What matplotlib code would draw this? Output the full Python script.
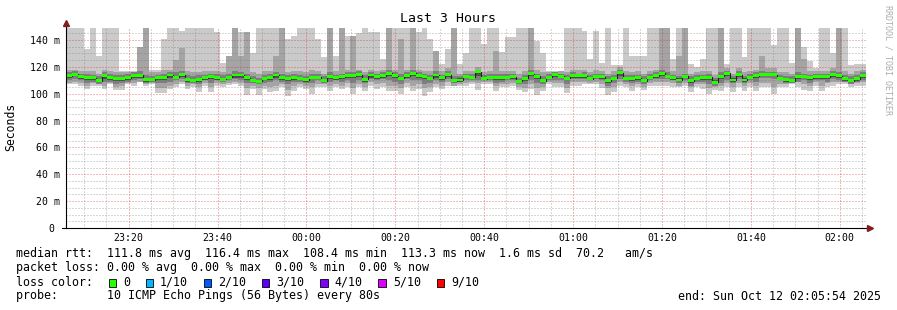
import numpy as np
import matplotlib
matplotlib.use('Agg')
import matplotlib.pyplot as plt
from matplotlib.patches import Rectangle
from matplotlib.transforms import ScaledTranslation

# time window, seconds relative to Sun Oct 12 00:00
t_start = -3246
t_end = 7554
step = 80
y_top = 148.9

xtick_pos = [-2400, -1200, 0, 1200, 2400, 3600, 4800, 6000, 7200]
xtick_labels = ['23:20', '23:40', '00:00', '00:20', '00:40', '01:00', '01:20', '01:40', '02:00']
ytick_pos = [0, 20, 40, 60, 80, 100, 120, 140]
ytick_labels = ['0', '20 m', '40 m', '60 m', '80 m', '100 m', '120 m', '140 m']

# median rtt (ms) per 80s step
med = [113.4, 114.6, 112.7, 111.9, 111.7, 109.7, 113.4, 111.7, 111.5, 111.0,
       111.9, 113.7, 113.7, 110.5, 110.5, 112.4, 112.2, 113.9, 112.4, 114.2,
       110.7, 109.7, 110.7, 111.7, 112.7, 111.7, 110.7, 112.2, 113.9, 113.9,
       111.9, 109.7, 109.2, 111.5, 112.2, 113.9, 112.2, 111.0, 111.7, 111.4,
       110.5, 112.4, 112.4, 109.7, 112.9, 111.7, 112.7, 113.4, 113.4, 114.2,
       110.7, 113.9, 112.7, 113.4, 115.2, 113.4, 111.4, 113.4, 115.2, 113.4,
       112.7, 111.4, 113.9, 111.7, 114.2, 109.7, 110.2, 112.9, 112.2, 116.4,
       111.0, 112.2, 111.7, 112.2, 112.2, 112.7, 109.2, 111.4, 114.7, 112.9,
       109.7, 112.2, 114.2, 112.9, 111.4, 113.2, 113.2, 113.4, 111.0, 112.9,
       112.7, 109.7, 111.4, 115.7, 111.4, 111.0, 111.7, 109.7, 112.4, 113.4,
       115.2, 113.0, 111.7, 110.2, 112.9, 109.7, 111.4, 111.7, 112.2, 108.4,
       112.9, 115.2, 110.2, 114.2, 110.2, 112.2, 113.4, 114.2, 114.2, 114.2,
       111.4, 110.5, 109.7, 112.9, 112.9, 111.7, 112.7, 112.7, 112.7, 114.2,
       113.2, 111.0, 109.7, 111.0, 113.3]

# sorted ping smoke edges (ms): p1 lowest ... p10 highest
p1 = [107.0, 107.0, 106.0, 103.5, 106.0, 106.0, 103.5, 107.0, 102.8, 102.8,
      107.0, 106.0, 108.4, 106.0, 107.0, 100.3, 100.3, 103.5, 104.7, 107.0,
      103.5, 105.2, 101.0, 106.0, 101.0, 106.0, 104.7, 106.7, 107.0, 106.0,
      99.3, 103.5, 99.3, 103.5, 101.0, 102.3, 104.7, 98.5, 102.3, 105.2,
      103.5, 99.8, 104.7, 105.2, 102.3, 105.2, 103.5, 105.2, 99.8, 104.7,
      102.3, 106.0, 103.5, 105.2, 102.3, 102.3, 99.8, 104.7, 102.3, 103.5,
      98.5, 101.0, 104.7, 103.5, 106.0, 106.0, 106.0, 106.0, 107.2, 103.0,
      107.2, 107.2, 102.3, 104.7, 104.7, 106.0, 102.8, 101.0, 103.5, 99.3,
      102.3, 107.2, 104.7, 104.7, 100.3, 106.0, 106.0, 107.2, 107.2, 107.2,
      104.2, 99.0, 101.0, 106.0, 104.7, 102.3, 104.7, 102.8, 106.0, 106.0,
      106.0, 106.0, 105.0, 105.0, 106.0, 101.0, 104.7, 103.5, 99.8, 102.8,
      102.3, 104.7, 101.0, 104.7, 102.3, 105.2, 101.8, 104.7, 104.7, 99.8,
      104.7, 104.7, 107.2, 105.2, 102.8, 102.3, 106.0, 102.3, 104.7, 106.0,
      107.2, 107.2, 104.7, 106.0, 106.0]

p2 = [108, 109, 108, 106, 108, 107, 106, 108, 105, 106,
      108, 108, 109, 107, 108, 104, 104, 106, 107, 109,
      106, 107, 105, 108, 105, 108, 107, 108, 109, 108,
      104, 106, 104, 106, 105, 106, 107, 103, 106, 107,
      106, 105, 107, 107, 106, 107, 106, 108, 104, 107,
      105, 109, 107, 108, 106, 106, 104, 108, 106, 107,
      104, 105, 107, 106, 109, 106, 107, 108, 109, 108,
      109, 109, 106, 107, 107, 108, 105, 104, 107, 104,
      105, 109, 108, 108, 104, 109, 109, 109, 108, 109,
      107, 104, 105, 109, 107, 106, 107, 105, 108, 109,
      109, 109, 108, 106, 108, 105, 107, 107, 104, 105,
      106, 108, 105, 108, 106, 108, 106, 108, 108, 105,
      107, 107, 108, 109, 107, 106, 109, 106, 108, 109,
      109, 109, 107, 108, 109]

p3 = [110, 111, 110, 108, 109, 107, 109, 109, 107, 108,
      109, 110, 111, 108, 109, 108, 108, 109, 110, 111,
      108, 108, 107, 110, 108, 110, 109, 110, 111, 110,
      108, 108, 107, 108, 109, 110, 109, 107, 109, 109,
      108, 108, 110, 108, 109, 110, 109, 110, 108, 110,
      108, 111, 110, 111, 110, 109, 107, 111, 110, 110,
      107, 108, 110, 109, 111, 108, 109, 110, 110, 110,
      110, 110, 108, 109, 110, 110, 107, 107, 110, 108,
      107, 110, 110, 110, 107, 111, 111, 111, 110, 111,
      110, 106, 108, 111, 109, 108, 109, 107, 110, 111,
      111, 111, 110, 108, 110, 106, 109, 109, 107, 106,
      108, 110, 108, 111, 108, 110, 109, 112, 112, 111,
      110, 108, 108, 109, 110, 108, 110, 110, 109, 111,
      110, 109, 107, 109, 110]

p4 = [112, 113, 111, 110, 110.5, 108.5, 111, 110, 109.5, 109.5,
      110.5, 112, 112, 109, 109.5, 110, 110.5, 112, 111, 112.5,
      109, 108.5, 109, 110.5, 111, 110.5, 109.5, 111, 112, 112,
      110, 108.5, 108, 110, 110.5, 112, 110.5, 109.5, 110, 110,
      109, 111, 111, 108.5, 111, 110.5, 111, 112, 111.5, 112.5,
      109, 112, 111, 112, 113, 112, 110, 112, 113, 112,
      111, 110, 112, 110.5, 112.5, 108.5, 109, 111.5, 111, 113,
      110, 111, 110, 110.5, 111, 111, 108, 109.5, 113, 111,
      108.5, 111, 112.5, 111.5, 110, 112, 112, 112, 110, 111.5,
      111, 108, 110, 113.5, 110, 109.5, 110.5, 108.5, 111, 112,
      113, 112, 110.5, 109.5, 111.5, 108, 110, 110.5, 110.5, 107.5,
      111, 113, 109, 112.5, 109, 111, 112, 113, 113, 113,
      110, 109, 108.5, 111, 111.5, 110, 111, 111, 111, 112.5,
      112, 109.5, 108.5, 109.5, 112]

p7 = [114.5, 115.5, 114, 113, 113, 111, 114, 113, 112.5, 112,
      113, 115, 114.5, 112, 111.5, 113, 113, 115, 113.5, 115,
      112, 111, 112, 113, 114, 113, 112, 113.5, 115, 115,
      113, 111, 110.5, 112.5, 113, 115, 113, 112, 113, 112.5,
      111.5, 113.5, 113.5, 111, 114, 113, 114, 114.5, 114.5, 115,
      112, 115, 114, 114.5, 116, 114.5, 112.5, 114.5, 116, 114.5,
      114, 112.5, 115, 113, 115, 111, 111.5, 114, 113, 117,
      112, 113, 113, 113, 113, 114, 110.5, 112.5, 116, 114,
      111, 113, 115, 114, 112.5, 114, 114, 114.5, 112, 114,
      114, 111, 112.5, 117, 112.5, 112, 113, 111, 113.5, 114.5,
      116, 114, 113, 111.5, 114, 111, 112.5, 113, 113, 110,
      114, 116, 111.5, 115, 111.5, 113, 114.5, 115, 115, 115,
      112.5, 111.5, 111, 114, 114, 113, 114, 114, 114, 115,
      114, 112, 111, 112, 114.5]

p8 = [116, 117, 115, 115, 114, 113, 116, 115, 114, 114,
      115, 116, 117, 114, 113, 114, 115, 116, 116, 117,
      114, 113, 114, 114, 115, 115, 114, 115, 117, 116,
      115, 113, 112, 114, 115, 116, 115, 114, 115, 114,
      113, 115, 115, 113, 116, 114, 115, 116, 116, 117,
      114, 116, 115, 116, 118, 116, 115, 116, 118, 116,
      115, 114, 117, 114, 117, 113, 113, 115, 115, 118,
      114, 115, 115, 115, 115, 115, 112, 114, 118, 115,
      113, 115, 116, 115, 114, 116, 115, 116, 114, 115,
      115, 113, 114, 118, 114, 114, 114, 113, 115, 116,
      118, 116, 114, 113, 115, 113, 114, 114, 115, 112,
      116, 117, 113, 117, 113, 115, 116, 117, 116, 116,
      114, 113, 113, 116, 115, 114, 115, 115, 115, 117,
      116, 114, 113, 114, 116]

p9 = [118, 118, 117, 117, 117, 115, 118, 117, 116, 116,
      116, 116, 135, 149, 116, 116, 118, 118, 125, 134,
      117, 116, 116, 117, 117, 117, 116, 128, 149, 128,
      146, 116, 115, 117, 117, 128, 149, 116, 117, 117,
      116, 118, 117, 115, 149, 117, 149, 118, 143, 118,
      116, 118, 117, 118, 149, 118, 141, 118, 149, 118,
      117, 117, 132, 117, 119, 149, 115, 117, 117, 120,
      116, 117, 132, 117, 117, 117, 115, 117, 149, 118,
      116, 116, 116, 117, 116, 118, 118, 118, 116, 118,
      117, 115, 117, 120, 117, 116, 117, 115, 117, 118,
      149, 149, 117, 128, 149, 115, 116, 117, 117, 114,
      149, 119, 115, 119, 116, 117, 118, 128, 119, 119,
      116, 116, 115, 149, 126, 117, 117, 117, 117, 119,
      149, 117, 115, 117, 118]

p10 = [149, 149, 149, 133, 149, 128, 149, 149, 149, 117,
       117, 117, 135, 149, 118, 118, 141, 149, 149, 147,
       149, 149, 149, 149, 149, 146, 123, 128, 149, 146,
       146, 130, 149, 149, 149, 149, 149, 141, 143, 149,
       149, 149, 141, 127, 149, 128, 149, 143, 143, 145,
       149, 146, 146, 126, 149, 149, 149, 149, 149, 146,
       149, 141, 132, 122, 133, 149, 122, 130, 149, 149,
       137, 149, 149, 131, 142, 142, 149, 149, 149, 139,
       130, 117, 117, 117, 149, 149, 149, 147, 126, 147,
       123, 149, 121, 121, 149, 128, 128, 128, 149, 149,
       149, 149, 126, 149, 149, 122, 120, 126, 149, 149,
       149, 122, 149, 149, 127, 149, 149, 149, 149, 136,
       149, 149, 123, 149, 135, 124, 119, 149, 149, 130,
       149, 149, 121, 122, 122]

loss_labels = ['0', '1/10', '2/10', '3/10', '4/10', '5/10', '9/10']
loss_colors = ['#26ff00', '#00b8ff', '#0059ff', '#5e00ff', '#7e00ff', '#dd00ff', '#ff0000']

title = 'Last 3 Hours'
ylabel = 'Seconds'
side_text = 'RRDTOOL / TOBI OETIKER'
stats_line = 'median rtt:  111.8 ms avg  116.4 ms max  108.4 ms min  113.3 ms now  1.6 ms sd  70.2   am/s'
loss_line = 'packet loss: 0.00 % avg  0.00 % max  0.00 % min  0.00 % now'
color_line = 'loss color:'
probe_line = 'probe:       10 ICMP Echo Pings (56 Bytes) every 80s'
end_line = 'end: Sun Oct 12 02:05:54 2025'

W, H = 897, 310
MONO = 'DejaVu Sans Mono'


def fx(x):
    return x / W


def fy(y):
    return 1 - y / H


def ext(a):
    a = np.asarray(a, dtype=float)
    return np.append(a, a[-1])


fig = plt.figure(figsize=(W / 100, H / 100), dpi=100)
fig.patch.set_facecolor('white')
ax = fig.add_axes([fx(66), fy(228), 800 / W, 200 / H])
ax.set_xlim(t_start, t_end)
ax.set_ylim(0, y_top)
for s in ax.spines.values():
    s.set_visible(False)

t = t_start + step * np.arange(len(med) + 1)

# smoke, outer to inner
bands = [(p1, p10, '#cacaca'), (p2, p9, '#a4a4a4'), (p3, p8, '#7e7e7e'), (p4, p7, '#4e4e4e')]
for lo, hi, c in bands:
    ax.fill_between(t, ext(lo), ext(hi), step='post', color=c, lw=0, zorder=1)

# grid (dotted, drawn over the smoke like rrdtool does)
dots = [(0, (1.4, 1.4))]
minor_c = [(0.45, 0.45, 0.45, 0.28)]
major_c = [(0.9, 0.1, 0.1, 0.3)]
minor_x = [v for v in np.arange(-3000, t_end, 300) if v % 1200 != 0]
minor_y = [v for v in np.arange(5, y_top, 5) if v % 20 != 0]
ax.vlines(minor_x, 0, y_top, colors=minor_c, lw=0.72, linestyles=dots, zorder=2, antialiased=False)
ax.hlines(minor_y, t_start, t_end, colors=minor_c, lw=0.72, linestyles=dots, zorder=2, antialiased=False)
ax.vlines(xtick_pos, 0, y_top, colors=major_c, lw=0.72, linestyles=dots, zorder=2, antialiased=False)
ax.hlines(ytick_pos[1:], t_start, t_end, colors=major_c, lw=0.72, linestyles=dots, zorder=2, antialiased=False)

# median: thin dark line plus loss coloured band
half = 1.1
ax.step(t, ext(med), where='post', color='#202020', lw=0.8, zorder=3)
ax.fill_between(t, ext(med) - half, ext(med) + half, step='post',
                color=loss_colors[0], lw=0, zorder=4)

# axes with arrows
ax.plot([0, 0], [0, 1.03], transform=ax.transAxes, color='black', lw=0.8,
        clip_on=False, zorder=5)
ax.plot([-0.005, 1.004], [0, 0], transform=ax.transAxes, color='black', lw=0.8,
        clip_on=False, zorder=5)
ax.plot([0], [1.026], transform=ax.transAxes, marker='^', ms=4, color='#7f1f1f',
        clip_on=False, zorder=6)
ax.plot([1.0045], [0], transform=ax.transAxes, marker='>', ms=4, color='#7f1f1f',
        clip_on=False, zorder=6)

ax.set_xticks(xtick_pos, xtick_labels)
ax.set_yticks(ytick_pos, ytick_labels)
ax.tick_params(axis='both', length=0, labelsize=7.1, colors='black')
ax.tick_params(axis='x', pad=3.8)
ax.tick_params(axis='y', pad=4.3)
for lbl in ax.get_xticklabels() + ax.get_yticklabels():
    lbl.set_fontfamily(MONO)
zero_lbl = ax.get_yticklabels()[0]
zero_lbl.set_transform(zero_lbl.get_transform() + ScaledTranslation(-6 / 100, 0, fig.dpi_scale_trans))

# titles
fig.text(fx(448), fy(19), title, family=MONO, fontsize=9.5, ha='center', va='center')
fig.text(fx(11), fy(127), ylabel, family=MONO, fontsize=8.3, rotation=90,
         ha='center', va='center')
fig.text(fx(888), fy(60), side_text, family=MONO, fontsize=6.0, rotation=270,
         ha='center', va='center', color='#acacac')

# legend block
fs = 8.35
fig.text(fx(16), fy(254), stats_line, family=MONO, fontsize=fs, va='center')
fig.text(fx(16), fy(268), loss_line, family=MONO, fontsize=fs, va='center')
fig.text(fx(16), fy(282), color_line, family=MONO, fontsize=fs, va='center')
fig.text(fx(16), fy(296), probe_line, family=MONO, fontsize=fs, va='center')
fig.text(fx(881), fy(296), end_line, family=MONO, fontsize=fs, va='center', ha='right')

x = 108.5
for lab, col in zip(loss_labels, loss_colors):
    fig.patches.append(Rectangle((fx(x), fy(286.5)), 7.5 / W, 7.5 / H, transform=fig.transFigure,
                                 facecolor=col, edgecolor='black', lw=0.6, figure=fig))
    fig.text(fx(x + 14.5), fy(282), lab, family=MONO, fontsize=fs, va='center')
    x += 14.5 + 7.05 * len(lab) + 15.5

fig.savefig('out.png', dpi=100, facecolor='white')
